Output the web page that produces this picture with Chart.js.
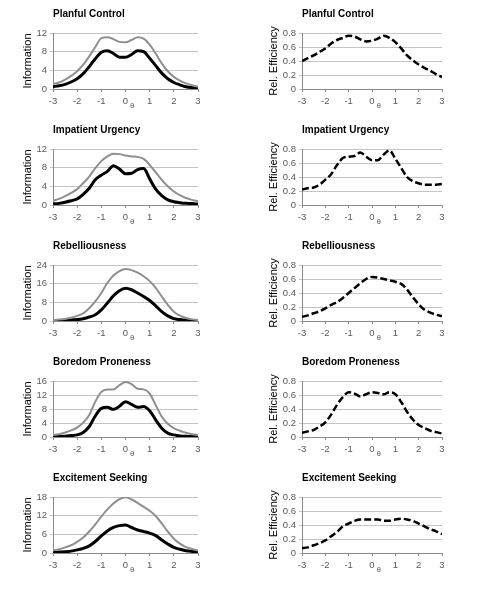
<!DOCTYPE html>
<html>
<head>
<meta charset="utf-8">
<script src="https://cdn.jsdelivr.net/npm/chart.js@4"></script>
<style>
body { margin: 0; background: #fff; }
#wrap { position: relative; width: 479px; height: 600px; background: #fff; }
canvas { position: absolute; }
</style>
</head>
<body>
<div id="wrap"></div>
<script>
// theta grid shared by all panels
const theta = [-3, -2.75, -2.5, -2.25, -2, -1.75, -1.5, -1.25, -1, -0.75, -0.5, -0.25, 0,
               0.25, 0.5, 0.75, 1, 1.25, 1.5, 1.75, 2, 2.25, 2.5, 2.75, 3];

const scaleNames = ['Planful Control', 'Impatient Urgency', 'Rebelliousness', 'Boredom Proneness', 'Excitement Seeking'];

// information curves: gray (full) and black (short)
const planfulGray  = [1.1, 1.4, 2.0, 2.8, 3.8, 5.2, 7.0, 9.0, 10.9, 11.1, 10.7, 10.1, 10.0, 10.5, 11.1, 10.8, 9.5, 7.6, 5.5, 3.8, 2.6, 1.8, 1.2, 0.8, 0.5];
const planfulBlack = [0.5, 0.7, 1.0, 1.5, 2.2, 3.3, 4.8, 6.5, 7.9, 8.2, 7.6, 6.8, 6.8, 7.4, 8.2, 8.0, 6.6, 5.0, 3.4, 2.2, 1.4, 0.9, 0.5, 0.3, 0.2];
const urgencyGray  = [0.9, 1.3, 1.9, 2.6, 3.4, 4.7, 6.1, 7.9, 9.4, 10.4, 11.0, 10.9, 10.6, 10.4, 10.3, 9.9, 8.6, 7.0, 5.4, 4.0, 2.9, 2.1, 1.5, 1.1, 0.8];
const urgencyBlack = [0.2, 0.35, 0.6, 0.9, 1.3, 2.3, 3.6, 5.4, 6.4, 7.2, 8.4, 7.7, 6.7, 6.8, 7.6, 7.8, 5.6, 3.4, 2.0, 1.1, 0.7, 0.5, 0.35, 0.3, 0.2];
const rebelGray    = [0.4, 0.6, 0.9, 1.4, 2.2, 3.3, 5.5, 8.4, 12.0, 16.3, 19.5, 21.4, 22.3, 21.8, 20.7, 19.2, 17.1, 14.2, 10.5, 6.9, 4.0, 2.3, 1.3, 0.7, 0.4];
const rebelBlack   = [0.1, 0.2, 0.3, 0.45, 0.6, 1.0, 1.7, 2.7, 4.8, 7.7, 10.8, 13.0, 14.0, 13.4, 12.0, 10.5, 8.8, 6.5, 4.0, 2.2, 1.0, 0.6, 0.3, 0.2, 0.1];
const boredomGray  = [0.6, 0.8, 1.3, 1.9, 2.7, 4.1, 6.3, 10.1, 12.9, 13.6, 13.6, 14.8, 15.7, 15.1, 13.8, 13.6, 12.4, 9.1, 5.8, 3.8, 2.5, 1.8, 1.2, 0.8, 0.6];
const boredomBlack = [0.1, 0.15, 0.2, 0.4, 0.6, 1.3, 3.0, 6.0, 8.2, 8.5, 7.9, 8.8, 10.1, 9.3, 8.5, 8.7, 7.5, 4.9, 2.5, 1.1, 0.6, 0.3, 0.2, 0.15, 0.1];
const excitGray    = [0.8, 1.2, 1.8, 2.5, 3.6, 5.0, 6.9, 9.2, 11.7, 14.0, 15.9, 17.3, 17.9, 17.2, 16.1, 14.8, 13.6, 11.9, 9.5, 6.9, 4.6, 3.0, 1.9, 1.3, 0.8];
const excitBlack   = [0.2, 0.3, 0.4, 0.6, 1.0, 1.5, 2.3, 3.7, 5.5, 7.1, 8.2, 8.8, 9.0, 8.2, 7.4, 6.9, 6.4, 5.6, 4.2, 2.9, 1.8, 1.2, 0.7, 0.5, 0.4];

// relative efficiency
const planfulEff = [0.40, 0.44, 0.48, 0.53, 0.58, 0.65, 0.70, 0.73, 0.76, 0.75, 0.71, 0.68, 0.69, 0.72, 0.76, 0.73, 0.67, 0.58, 0.48, 0.41, 0.35, 0.30, 0.26, 0.21, 0.17];
const urgencyEff = [0.22, 0.24, 0.25, 0.29, 0.36, 0.44, 0.57, 0.67, 0.69, 0.70, 0.75, 0.69, 0.64, 0.64, 0.72, 0.78, 0.66, 0.53, 0.40, 0.34, 0.31, 0.29, 0.29, 0.29, 0.30];
const rebelEff   = [0.06, 0.08, 0.11, 0.14, 0.18, 0.23, 0.27, 0.33, 0.40, 0.47, 0.54, 0.60, 0.63, 0.62, 0.60, 0.58, 0.56, 0.53, 0.45, 0.34, 0.24, 0.16, 0.12, 0.09, 0.07];
const boredomEff = [0.06, 0.08, 0.10, 0.15, 0.21, 0.32, 0.46, 0.57, 0.64, 0.62, 0.58, 0.61, 0.64, 0.63, 0.61, 0.64, 0.61, 0.50, 0.36, 0.25, 0.17, 0.13, 0.09, 0.07, 0.05];
const excitEff   = [0.07, 0.08, 0.11, 0.14, 0.18, 0.24, 0.30, 0.38, 0.42, 0.46, 0.48, 0.48, 0.48, 0.48, 0.46, 0.46, 0.48, 0.49, 0.48, 0.46, 0.42, 0.38, 0.34, 0.31, 0.27];

// y axis tick ranges
const infoMax  = [12, 12, 24, 16, 18];
const infoStep = [4, 4, 8, 4, 6];
const effMax = 0.8;
const effStep = 0.2;

const infoGray  = [planfulGray, urgencyGray, rebelGray, boredomGray, excitGray];
const infoBlack = [planfulBlack, urgencyBlack, rebelBlack, boredomBlack, excitBlack];
const effData   = [planfulEff, urgencyEff, rebelEff, boredomEff, excitEff];

const FONT = "'Liberation Sans', Arial, sans-serif";
const rowTop = [33, 149, 265, 381, 497];

function points(vals) {
    return theta.map((t, i) => ({ x: t, y: vals[i] }));
}

function makePanel(left, top, width, yWidth, padRight, yTitlePad, title, yTitle, datasets, yMax, yStep)
{
    const canvas = document.createElement('canvas');
    canvas.width = width;
    canvas.height = 115;
    canvas.style.left = left + 'px';
    canvas.style.top = (top - 29) + 'px';
    document.getElementById('wrap').appendChild(canvas);

    new Chart(canvas.getContext('2d'), {
        type: 'line',
        data: { datasets: datasets },
        options: {
            responsive: false,
            animation: false,
            layout: { padding: { left: 0, right: padRight, top: 0, bottom: 0 } },
            elements: { point: { radius: 0 }, line: { cubicInterpolationMode: 'monotone' } },
            plugins: {
                legend: { display: false },
                tooltip: { enabled: false },
                title: {
                    display: true,
                    text: title,
                    align: 'start',
                    fullSize: false,
                    color: '#000',
                    font: { family: FONT, size: 10, weight: 'bold' },
                    padding: { top: 4, bottom: 13 }
                }
            },
            scales: {
                x: {
                    type: 'linear',
                    min: -3,
                    max: 3,
                    afterFit: (s) => { s.height = 30; },
                    ticks: { stepSize: 1, autoSkip: false, maxRotation: 0, color: '#595959',
                             font: { family: FONT, size: 9.5 }, padding: 4 },
                    grid: { drawOnChartArea: false, drawTicks: true, tickLength: 3, color: '#8a8a8a' },
                    border: { color: '#8a8a8a' },
                    title: { display: true, text: '      \u03b8', color: '#595959',
                             font: { family: FONT, size: 8 }, padding: { top: 0, bottom: 8 } }
                },
                y: {
                    min: 0,
                    max: yMax,
                    afterFit: (s) => { s.width = yWidth; },
                    ticks: { stepSize: yStep, autoSkip: false, color: '#595959',
                             font: { family: FONT, size: 9.5 }, padding: 3 },
                    grid: { color: '#c4c4c4', drawTicks: true, tickLength: 3 },
                    border: { color: '#8a8a8a' },
                    title: { display: true, text: yTitle, color: '#000',
                             font: { family: FONT, size: 11 }, padding: { top: yTitlePad, bottom: 0 } }
                }
            }
        }
    });
}

for (let i = 0; i < scaleNames.length; i++)
{
    makePanel(0, rowTop[i], 240, 53, 42, 21, scaleNames[i], 'Information', [
        { data: points(infoGray[i]), borderColor: '#8f8f8f', borderWidth: 2 },
        { data: points(infoBlack[i]), borderColor: '#000', borderWidth: 3 }
    ], infoMax[i], infoStep[i]);

    makePanel(240, rowTop[i], 239, 62, 37, 27, scaleNames[i], 'Rel. Efficiency', [
        { data: points(effData[i]), borderColor: '#000', borderWidth: 2.5, borderDash: [7, 3] }
    ], effMax, effStep);
}
</script>
</body>
</html>
